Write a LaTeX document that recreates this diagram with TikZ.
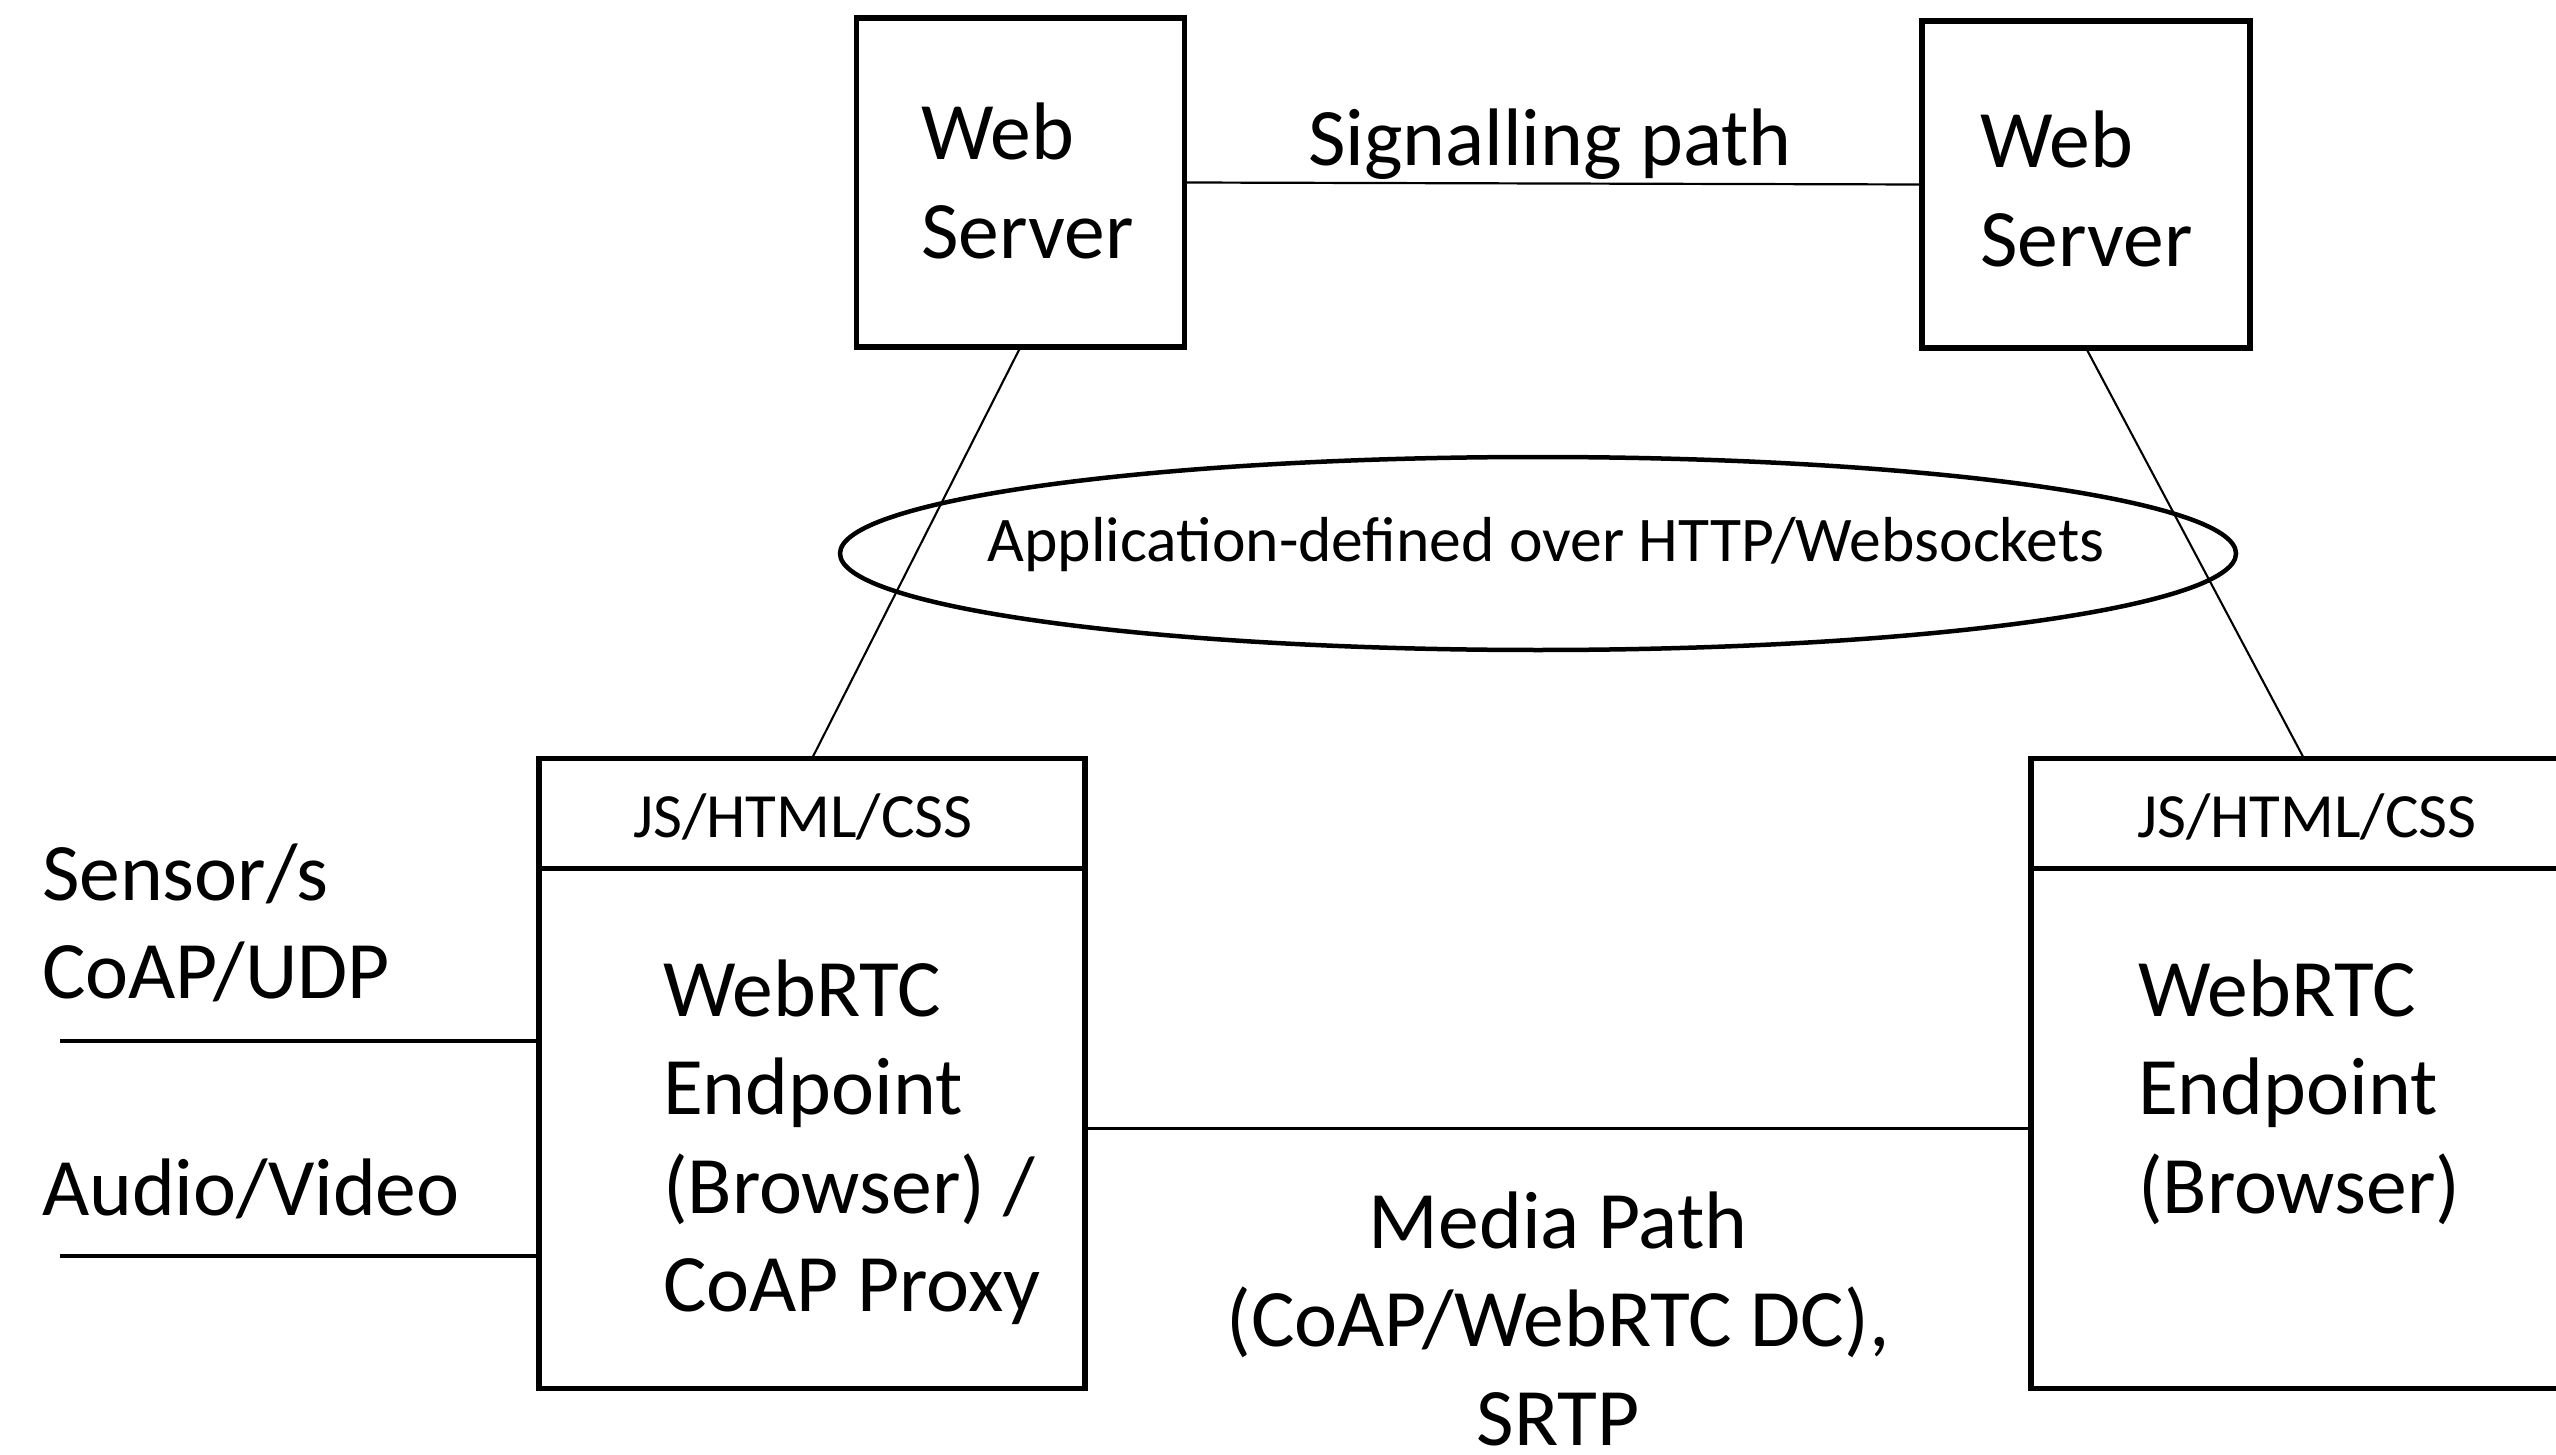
\documentclass[tikz,border=0pt]{standalone}
\usepackage{fontspec}
\setmainfont{Carlito}
\usetikzlibrary{shapes.geometric}
\begin{document}
\begin{tikzpicture}[x=0.5pt,y=-0.5pt,
  box/.style={draw,line width=2.8pt,rectangle,inner sep=0pt,outer sep=0pt},
  big/.style={inner sep=0pt,outer sep=0pt,font=\fontsize{40.8}{49.25}\selectfont},
  small/.style={inner sep=0pt,outer sep=0pt,font=\fontsize{31.5}{38}\selectfont},
  conn/.style={line width=1.6pt},
  thinconn/.style={line width=1.1pt},
  diag/.style={line width=1.05pt}]
\useasboundingbox (0,0) rectangle (2556,1455);
\clip (0,0) rectangle (2556,1455);
% web servers
\node[box,minimum width=164pt,minimum height=164.5pt] (ws1) at (1020.5,182.5) {};
\node[box,minimum width=164pt,minimum height=163.5pt] (ws2) at (2086,184.5) {};
\node[big,anchor=base west] (ws1t) at (921,160) {\begin{tabular}[t]{@{}l@{}}Web\\Server\end{tabular}};
\node[big,anchor=base west] (ws2t) at (1980,168) {\begin{tabular}[t]{@{}l@{}}Web\\Server\end{tabular}};
\node[big,anchor=base west] (sig) at (1308,166) {Signalling path};
% ellipse
\node[draw,ellipse,line width=2.25pt,minimum width=698pt,minimum height=96.5pt,inner sep=0pt] (ell) at (1538,553.5) {};
\node[small,anchor=base,font=\fontsize{31.8}{38}\selectfont] (ellt) at (1546,561) {Application-defined over HTTP/Websockets};
% endpoints
\node[box,minimum width=273pt,minimum height=55pt] (hdrL) at (812,813.5) {};
\node[box,minimum width=273pt,minimum height=260pt] (bodyL) at (812,1128.5) {};
\node[box,minimum width=273pt,minimum height=55pt] (hdrR) at (2304,813.5) {};
\node[box,minimum width=273pt,minimum height=260pt] (bodyR) at (2304,1128.5) {};
\node[small,anchor=base] (hdrLt) at (803,837) {JS/HTML/CSS};
\node[small,anchor=base] (hdrRt) at (2307,837) {JS/HTML/CSS};
\node[big,anchor=base west] (epLt) at (663,1016) {\begin{tabular}[t]{@{}l@{}}WebRTC\\Endpoint\\(Browser) /\\CoAP Proxy\end{tabular}};
\node[big,anchor=base west] (epRt) at (2138,1016) {\begin{tabular}[t]{@{}l@{}}WebRTC\\Endpoint\\(Browser)\end{tabular}};
% sensors
\node[big,anchor=base west] (sens) at (42,900) {\begin{tabular}[t]{@{}l@{}}Sensor/s\\CoAP/UDP\end{tabular}};
\node[big,anchor=base west] (av) at (42,1215) {Audio/Video};
\coordinate (s1) at (60,1041);
\coordinate (s2) at (60,1256);
% media
\node[big,anchor=base] (media) at (1558,1248) {\begin{tabular}[t]{@{}c@{}}Media Path\\(CoAP/WebRTC DC),\\SRTP\end{tabular}};
% connectors
\draw[thinconn] (ws1.east) -- (ws2.west);
\draw[diag] (ws1.south) -- (hdrL.north);
\draw[diag] (ws2.south) -- (hdrR.north);
\draw[conn] (bodyL.east) -- (bodyR.west);
\draw[conn] (s1) -- (bodyL.west |- s1);
\draw[conn] (s2) -- (bodyL.west |- s2);
\end{tikzpicture}
\end{document}
